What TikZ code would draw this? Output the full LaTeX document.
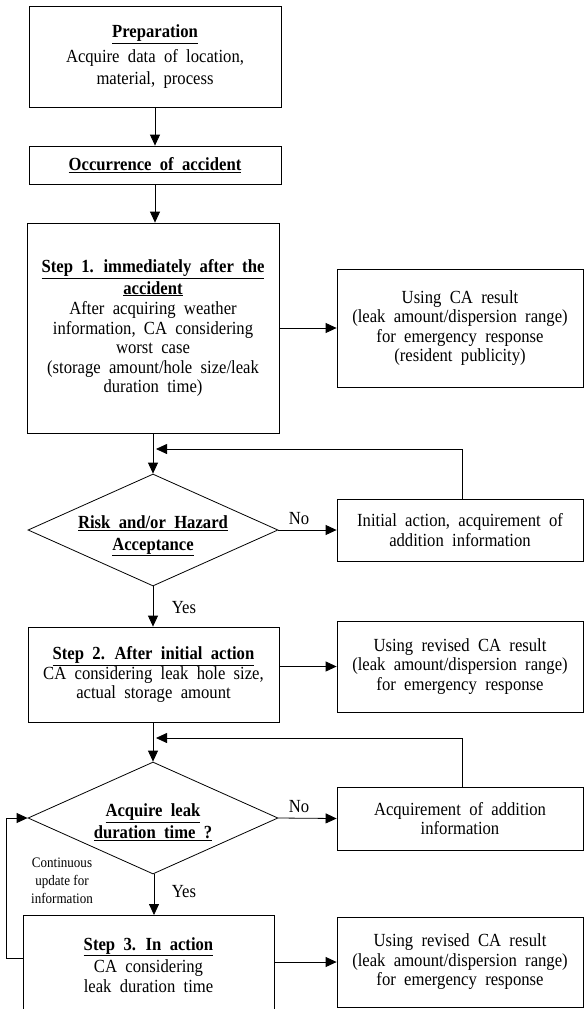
\documentclass[tikz,border=0pt]{standalone}
\usepackage{fontspec}
\setmainfont{Liberation Serif}[FakeStretch=0.9]
\usetikzlibrary{arrows.meta,shapes.geometric}
\newcommand\bodyfnt{\fontsize{18.5}{19.5}\selectfont\spaceskip=0.45em plus 0.1em\relax}
\newcommand\smallfnt{\fontsize{14.5}{18}\selectfont}
\newcommand\ttl[1]{\textbf{\underline{#1}}}
\begin{document}
\begin{tikzpicture}[x=1pt,y=-1pt,
  box/.style={draw, line width=0.8pt, inner sep=0pt, align=center, font=\bodyfnt},
  dia/.style={draw, line width=0.8pt, shape=diamond, inner sep=0pt, minimum width=250pt, minimum height=112pt},
  lbl/.style={inner sep=0pt, align=center, font=\bodyfnt},
  arr/.style={-{Triangle[length=11pt,width=10pt]}, line width=0.8pt}]
\useasboundingbox (0,0) rectangle (584,1009);
\clip (0,0) rectangle (584,1009);
% left column
\node[box, minimum width=252pt, minimum height=101pt] (prep) at (155,56.5)
  {\ttl{Preparation}\\[6pt]Acquire data of location,\\[2pt]material, process};
\node[box, minimum width=252pt, minimum height=38pt] (occ) at (155,165)
  {\ttl{Occurrence of accident}};
\node[box, minimum width=252pt, minimum height=210pt] (step1) at (153,328)
  {\ttl{Step 1. immediately after the}\\[2pt]\ttl{accident}\\[1pt]After acquiring weather\\information, CA considering\\worst case\\(storage amount/hole size/leak\\duration time)};
\node[dia] (d1) at (153,530) {};
\node[lbl] (d1t) at (153,536) {\ttl{Risk and/or Hazard}\\[2pt]\ttl{Acceptance}};
\node[box, minimum width=251pt, minimum height=95pt] (step2) at (153.5,674.5)
  {\ttl{Step 2. After initial action}\\CA considering leak hole size,\\actual storage amount};
\node[dia] (d2) at (153,818) {};
\node[lbl] (d2t) at (153,822) {\ttl{Acquire leak}\\[2pt]\ttl{duration time ?}};
\node[box, minimum width=251pt, minimum height=130pt, anchor=north] (step3) at (148.5,915) {};
\node[lbl] (step3t) at (148.5,965)
  {\ttl{Step 3. In action}\\[3pt]CA considering\\leak duration time};
% right column
\node[box, minimum width=246pt, minimum height=118pt] (r1) at (460,328)
  {Using CA result\\(leak amount/dispersion range)\\for emergency response\\(resident publicity)};
\node[box, minimum width=246pt, minimum height=62pt] (init) at (460,530)
  {Initial action, acquirement of\\addition information};
\node[box, minimum width=246pt, minimum height=91pt] (r2) at (460,666.5)
  {Using revised CA result\\(leak amount/dispersion range)\\for emergency response};
\node[box, minimum width=246pt, minimum height=63pt] (acq) at (460,818.5)
  {Acquirement of addition\\information};
\node[box, minimum width=246pt, minimum height=90pt] (r3) at (460,962)
  {Using revised CA result\\(leak amount/dispersion range)\\for emergency response};
% labels
\node[lbl] (no1) at (299,519) {No};
\node[lbl] (no2) at (299,807) {No};
\node[lbl] (yes1) at (184,608) {Yes};
\node[lbl] (yes2) at (184,892) {Yes};
\node[inner sep=0pt, align=center, font=\smallfnt] (cont) at (62,881)
  {Continuous\\update for\\information};
% connectors
\draw[arr] (prep) -- (occ);
\draw[arr] (occ.south) -- (occ.south |- step1.north);
\draw[arr] (step1) -- (d1);
\draw[arr] (d1.south) -- (d1.south |- step2.north);
\draw[arr] (step2.south -| d2.north) -- (d2.north);
\draw[arr] (d2.south) ++(1,0) coordinate (d2s) -- (d2s |- step3.north);
\draw[arr] (step1.east) -- (r1.west);
\draw[arr] (d1.east) -- (init.west);
\draw[arr] (step2.east |- r2.west) -- (r2.west);
\draw[arr] (d2.east) -- (acq.west);
\draw[arr] (step3.east |- r3.west) -- (r3.west);
\coordinate (m1) at (156,449);
\coordinate (m2) at (156,738);
\coordinate (lp) at (6,958);
\draw[arr] (init.north) ++(2,0) coordinate (in1) |- (m1);
\draw[arr] (acq.north) ++(2,0) coordinate (aq1) |- (m2);
\draw[arr] (step3.west |- lp) -- (lp) |- (d2.west);
\end{tikzpicture}
\end{document}
